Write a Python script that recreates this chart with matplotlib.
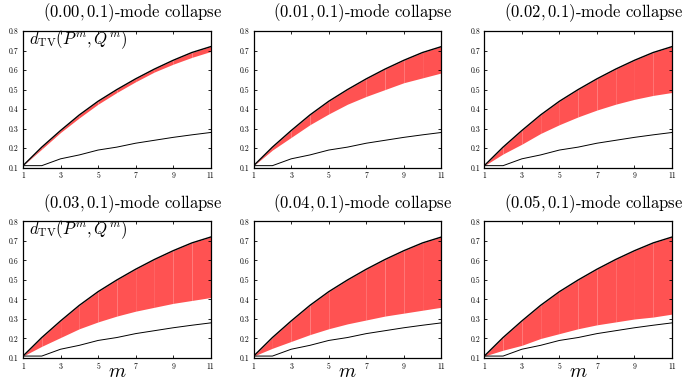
import matplotlib
matplotlib.use("Agg")
import matplotlib.pyplot as plt

plt.rcParams['font.family'] = 'serif'
plt.rcParams['font.serif'] = ['cmr10', 'DejaVu Serif']
plt.rcParams['mathtext.fontset'] = 'cm'
plt.rcParams['axes.formatter.use_mathtext'] = True

m = [1, 2, 3, 4, 5, 6, 7, 8, 9, 10, 11]
# upper bound on d_TV (black curve on top of red band)
upper = [0.11, 0.205, 0.29, 0.37, 0.44, 0.50, 0.555, 0.605, 0.65, 0.69, 0.72]
# bottom black curve, same in every panel
base = [0.11, 0.11, 0.145, 0.165, 0.19, 0.205, 0.225, 0.24, 0.255, 0.268, 0.28]

eps_labels = ['0.00', '0.01', '0.02', '0.03', '0.04', '0.05']
# lower edge of the red band per panel
lower_00 = [0.11, 0.195, 0.28, 0.355, 0.425, 0.485, 0.54, 0.59, 0.63, 0.665, 0.695]
lower_01 = [0.11, 0.19, 0.255, 0.32, 0.375, 0.425, 0.465, 0.50, 0.535, 0.56, 0.585]
lower_02 = [0.11, 0.17, 0.22, 0.275, 0.32, 0.36, 0.395, 0.425, 0.45, 0.47, 0.485]
lower_03 = [0.11, 0.16, 0.205, 0.25, 0.285, 0.315, 0.34, 0.36, 0.38, 0.395, 0.41]
lower_04 = [0.11, 0.15, 0.185, 0.22, 0.25, 0.275, 0.295, 0.315, 0.33, 0.345, 0.36]
lower_05 = [0.11, 0.14, 0.165, 0.20, 0.225, 0.25, 0.27, 0.285, 0.30, 0.31, 0.325]
lowers = [lower_00, lower_01, lower_02, lower_03, lower_04, lower_05]

xticks = [1, 3, 5, 7, 9, 11]
yticks = [0.1, 0.2, 0.3, 0.4, 0.5, 0.6, 0.7, 0.8]

fig, axes = plt.subplots(2, 3, figsize=(6.85, 3.82), dpi=100)
fig.subplots_adjust(left=0.0336, right=0.981, top=0.9188, bottom=0.0628,
                    wspace=0.229, hspace=0.394)

for k, ax in enumerate(axes.flat):
    low = lowers[k]
    # draw the band one step at a time (gives the faint seams)
    for i in range(len(m) - 1):
        ax.fill_between(m[i:i + 2], low[i:i + 2], upper[i:i + 2],
                        color='#ff5252', linewidth=0)
    ax.plot(m, upper, color='black', lw=1.0)
    ax.plot(m, base, color='black', lw=0.7)

    ax.set_xlim(1, 11)
    ax.set_ylim(0.1, 0.8)
    ax.set_xticks(xticks)
    ax.set_yticks(yticks)
    ax.set_xticklabels([str(t) for t in xticks])
    ax.set_yticklabels(['%.1f' % t for t in yticks])
    ax.tick_params(direction='in', length=2, width=0.6, labelsize=5.5,
                   right=True, top=True, pad=3)
    for s in ax.spines.values():
        s.set_linewidth(0.9)

    ax.text(1.06, 1.05, r'$(%s, 0.1)$-mode collapse' % eps_labels[k],
            transform=ax.transAxes, ha='right', va='bottom', fontsize=12)

    if k % 3 == 0:
        ax.text(0.03, 1.02, r'$d_{\mathrm{TV}}(P^m, Q^m)$',
                transform=ax.transAxes, ha='left', va='top', fontsize=12)
    if k >= 3:
        ax.text(0.5, -0.1, r'$m$', transform=ax.transAxes,
                ha='center', va='center', fontsize=14)

fig.savefig('out.png', dpi=100)
